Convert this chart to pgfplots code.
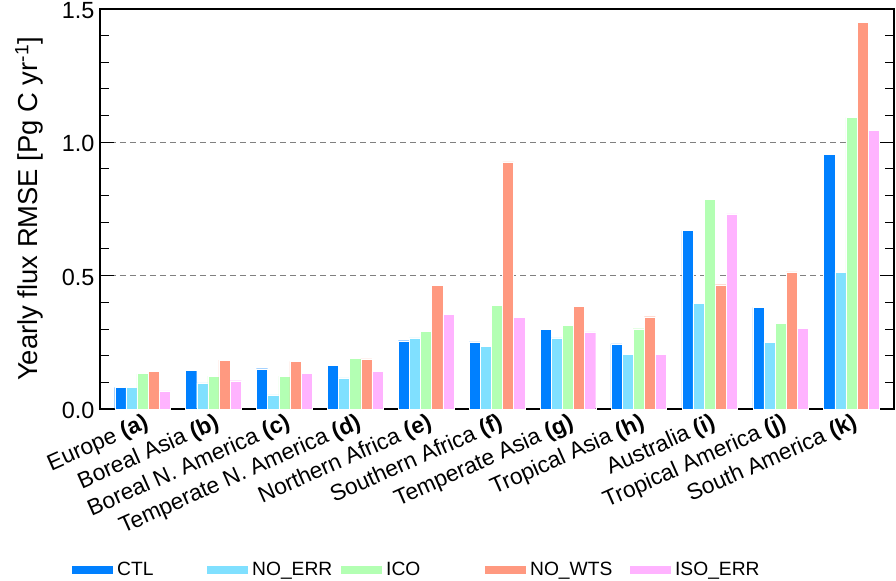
\documentclass[border=0pt]{standalone}
\usepackage{fontspec}
\setmainfont{Liberation Sans}
\usepackage{pgfplots}
\pgfplotsset{compat=1.18}
\usepackage{pgfplotstable}

\definecolor{cctl}{RGB}{0,128,255}
\definecolor{cnoerr}{RGB}{128,224,255}
\definecolor{cico}{RGB}{179,255,179}
\definecolor{cnowts}{RGB}{255,153,128}
\definecolor{ciso}{RGB}{255,179,255}

\pgfplotstableread{
x ctl noerr ico nowts iso
0  0.081 0.081 0.133 0.141 0.068
1  0.144 0.098 0.123 0.183 0.106
2  0.151 0.053 0.123 0.179 0.133
3  0.164 0.117 0.190 0.188 0.141
4  0.256 0.267 0.291 0.463 0.354
5  0.252 0.235 0.389 0.927 0.343
6  0.298 0.267 0.314 0.384 0.289
7  0.244 0.204 0.301 0.346 0.204
8  0.669 0.396 0.786 0.466 0.732
9  0.381 0.251 0.321 0.514 0.302
10 0.956 0.513 1.094 1.449 1.044
}\data

\begin{document}
\begin{tikzpicture}
\begin{axis}[
  scale only axis, width=794bp, height=400bp,
  xmin=-0.6, xmax=10.6, ymin=0, ymax=1.5,
  ybar=0pt, bar width=0.157,
  axis line style={line width=1.2bp},
  xtick={0,...,10},
  xticklabels={Europe \textbf{(a)}, Boreal Asia \textbf{(b)}, Boreal N. America \textbf{(c)}, Temperate N. America \textbf{(d)}, Northern Africa \textbf{(e)}, Southern Africa \textbf{(f)}, Temperate Asia \textbf{(g)}, Tropical Asia \textbf{(h)}, Australia \textbf{(i)}, Tropical America \textbf{(j)}, South America \textbf{(k)}},
  xticklabel style={rotate=24, anchor=north east, font=\fontsize{22.8}{24}\selectfont, inner sep=1bp, yshift=-2bp},
  major x tick style={draw=none},
  ytick={0,0.5,1.0,1.5},
  minor ytick={0.1,0.2,...,1.45},
  /pgf/number format/fixed, /pgf/number format/fixed zerofill, /pgf/number format/precision=1,
  /pgf/number format/assume math mode=true,
  yticklabel style={font=\fontsize{23.5}{25}\selectfont, xshift=-2bp, yshift=-1.5bp},
  tick align=inside,
  major tick length=14bp, minor tick length=9bp,
  tick style={line width=1bp, black},
  ymajorgrids,
  major grid style={gray, dashed, line width=0.8bp, dash pattern=on 6bp off 4bp},
  ylabel={Yearly flux RMSE [Pg C yr\textsuperscript{-1}]},
  ylabel style={font=\fontsize{27.5}{29}\selectfont, yshift=12bp},
  every axis plot/.append style={draw=white, line width=0.4bp},
  legend columns=5,
  legend style={draw=none, fill=none, inner sep=0pt, at={(rel axis cs:0,0)}, anchor=west, xshift=-28bp, yshift=-161bp, font=\fontsize{19.3}{21}\selectfont, column sep=0pt},
  legend image code/.code={\path[#1, draw=none] (0bp,-4bp) rectangle (41bp,4bp);},
]
\addplot[fill=cctl] table[x=x,y=ctl] {\data};
\addlegendentry{\makebox[90bp][l]{\hspace{2bp}CTL}}
\addplot[fill=cnoerr] table[x=x,y=noerr] {\data};
\addlegendentry{\makebox[89bp][l]{\hspace{2bp}NO\_ERR}}
\addplot[fill=cico] table[x=x,y=ico] {\data};
\addlegendentry{\makebox[99bp][l]{\hspace{2bp}ICO}}
\addplot[fill=cnowts] table[x=x,y=nowts] {\data};
\addlegendentry{\makebox[100bp][l]{\hspace{2bp}NO\_WTS}}
\addplot[fill=ciso] table[x=x,y=iso] {\data};
\addlegendentry{\makebox[94bp][l]{\hspace{2bp}ISO\_ERR}}
\coordinate (ll) at (rel axis cs:0,0);
\coordinate (ur) at (rel axis cs:1,1);
\end{axis}
\pgfresetboundingbox
\path ([shift={(-100bp,-172bp)}]ll) rectangle ([shift={(2bp,9bp)}]ur);
\end{tikzpicture}
\end{document}
